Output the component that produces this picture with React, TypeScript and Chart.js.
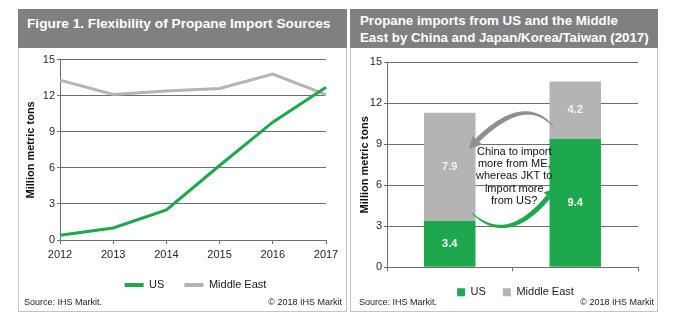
import React, { useEffect, useRef } from 'react';
import { Chart, registerables } from 'chart.js';

Chart.register(...registerables);

// ---------- data ----------
const years = ['2012', '2013', '2014', '2015', '2016', '2017'];
const usImports = [0.4, 1.0, 2.5, 6.2, 9.8, 12.7];
const middleEastImports = [13.3, 12.1, 12.4, 12.6, 13.8, 12.1];

const regions = ['China', 'Japan/Korea/Taiwan'];
const usByRegion = [3.4, 9.4];
const middleEastByRegion = [7.9, 4.2];

const yMin = 0;
const yMax = 15;
const yStep = 3;

const seriesNames = ['US', 'Middle East'];
const annotationLines = ['China to import', 'more from ME,', 'whereas JKT to', 'import more', 'from US?'];

// ---------- styles ----------
const FONT = '"Liberation Sans", Arial, Helvetica, sans-serif';
const GREEN = '#1ea84d';
const GRAY = '#b4b4b4';
const ARROW_GRAY = '#8f8f8f';
const AXIS = '#6e6e6e';
const TEXT = '#262626';
const HEADER = '#808080';
const BORDER = '#c4c4c4';

Chart.defaults.font.family = FONT;

const plainLegendLabels = (chart: any) =>
  (Chart.defaults.plugins.legend.labels as any)
    .generateLabels(chart)
    .map((l: any) => ({ ...l, lineWidth: 0, strokeStyle: 'rgba(0,0,0,0)' }));

// shifts the legend horizontally (reference legend is centred under the plot)
const legendShift = (dx: number) => ({
  id: 'legendShift',
  afterLayout(chart: any) {
    if (chart.legend) {
      chart.legend.left += dx;
      chart.legend.right += dx;
    }
  },
});

// value labels inside stacked bars
const barValueLabels = {
  id: 'barValueLabels',
  afterDatasetsDraw(chart: any) {
    const { ctx } = chart;
    ctx.save();
    ctx.font = `bold 11px ${FONT}`;
    ctx.textAlign = 'center';
    ctx.textBaseline = 'middle';
    chart.data.datasets.forEach((ds: any, i: number) => {
      const meta = chart.getDatasetMeta(i);
      meta.data.forEach((el: any, j: number) => {
        ctx.fillStyle = i === 0 ? '#ffffff' : '#f2f2f2';
        ctx.fillText(ds.data[j].toFixed(1), el.x, (el.y + el.base) / 2);
      });
    });
    ctx.restore();
  },
};

// annotation: curved arrows + question text, placed in data units of the bar chart
type Pt = [number, number];
const grayArrow = { s: [0.825, 10.3] as Pt, c: [0.6, 12.7] as Pt, e: [0.22, 9.3] as Pt, tip: [0.155, 8.65] as Pt };
const greenArrow = { s: [0.18, 3.95] as Pt, c: [0.46, 1.55] as Pt, e: [0.785, 5.15] as Pt, tip: [0.857, 5.8] as Pt };
const annotationAnchor: Pt = [0.514, 8.46];
const annotationLineStep = 0.905;

function drawArrow(ctx: CanvasRenderingContext2D, S: Pt, C: Pt, E: Pt, T: Pt, w0: number, w1: number, headW: number, color: string) {
  const N = 40;
  const left: Pt[] = [];
  const right: Pt[] = [];
  for (let i = 0; i <= N; i++) {
    const t = i / N;
    const mt = 1 - t;
    const px = mt * mt * S[0] + 2 * mt * t * C[0] + t * t * E[0];
    const py = mt * mt * S[1] + 2 * mt * t * C[1] + t * t * E[1];
    let dx = 2 * mt * (C[0] - S[0]) + 2 * t * (E[0] - C[0]);
    let dy = 2 * mt * (C[1] - S[1]) + 2 * t * (E[1] - C[1]);
    const len = Math.hypot(dx, dy) || 1;
    dx /= len;
    dy /= len;
    const w = (w0 + (w1 - w0) * Math.sin((t * Math.PI) / 2)) / 2;
    left.push([px - dy * w, py + dx * w]);
    right.push([px + dy * w, py - dx * w]);
  }
  ctx.fillStyle = color;
  ctx.beginPath();
  ctx.moveTo(left[0][0], left[0][1]);
  left.forEach((p) => ctx.lineTo(p[0], p[1]));
  for (let i = right.length - 1; i >= 0; i--) ctx.lineTo(right[i][0], right[i][1]);
  ctx.closePath();
  ctx.fill();
  // head
  let hx = T[0] - E[0];
  let hy = T[1] - E[1];
  const hl = Math.hypot(hx, hy) || 1;
  hx /= hl;
  hy /= hl;
  ctx.beginPath();
  ctx.moveTo(T[0], T[1]);
  ctx.lineTo(E[0] - hy * headW / 2, E[1] + hx * headW / 2);
  ctx.lineTo(E[0] + hy * headW / 2, E[1] - hx * headW / 2);
  ctx.closePath();
  ctx.fill();
}

const annotationPlugin = {
  id: 'annotationPlugin',
  afterDatasetsDraw(chart: any) {
    const { ctx } = chart;
    const { x, y } = chart.scales;
    const x0 = x.getPixelForValue(0);
    const x1 = x.getPixelForValue(1);
    const P = (p: Pt): Pt => [x0 + (x1 - x0) * p[0], y.getPixelForValue(p[1])];
    ctx.save();
    drawArrow(ctx, P(grayArrow.s), P(grayArrow.c), P(grayArrow.e), P(grayArrow.tip), 1, 5, 13, ARROW_GRAY);
    drawArrow(ctx, P(greenArrow.s), P(greenArrow.c), P(greenArrow.e), P(greenArrow.tip), 1, 5, 13, GREEN);
    ctx.fillStyle = '#111111';
    ctx.font = `11px ${FONT}`;
    ctx.textAlign = 'center';
    ctx.textBaseline = 'middle';
    annotationLines.forEach((line, i) => {
      const p = P([annotationAnchor[0], annotationAnchor[1] - i * annotationLineStep]);
      ctx.fillText(line, p[0], p[1]);
    });
    ctx.restore();
  },
};

const yTitle = (pad: number) => ({
  display: true,
  text: 'Million metric tons',
  color: '#111111',
  font: { size: 11, weight: 'bold' as const },
  padding: { top: pad, bottom: 0 },
});

function LineChart() {
  const ref = useRef<HTMLCanvasElement>(null);
  useEffect(() => {
    const chart = new Chart(ref.current as HTMLCanvasElement, {
      type: 'line',
      data: {
        labels: years,
        datasets: [
          { label: seriesNames[0], data: usImports, borderColor: GREEN, backgroundColor: GREEN, borderWidth: 3, pointRadius: 0, tension: 0 },
          { label: seriesNames[1], data: middleEastImports, borderColor: GRAY, backgroundColor: GRAY, borderWidth: 3, pointRadius: 0, tension: 0 },
        ],
      },
      options: {
        animation: false,
        responsive: false,
        layout: { padding: { top: 11.7, right: 20, bottom: 9.5, left: 0 } },
        plugins: {
          tooltip: { enabled: false },
          legend: {
            position: 'bottom',
            labels: {
              boxWidth: 19,
              boxHeight: 4,
              padding: 20,
              color: '#1a1a1a',
              font: { size: 11 },
              generateLabels: plainLegendLabels,
            },
          },
        },
        scales: {
          x: {
            type: 'category',
            offset: false,
            grid: { drawOnChartArea: false, drawTicks: true, tickLength: 4, color: AXIS },
            border: { color: AXIS },
            ticks: { color: TEXT, font: { size: 11 }, padding: 4.5, maxRotation: 0, autoSkip: false },
            afterFit: (s: any) => { s.height = 19.5; },
          },
          y: {
            min: yMin,
            max: yMax,
            ticks: { stepSize: yStep, color: TEXT, font: { size: 11 }, padding: 2 },
            grid: { color: AXIS, tickLength: 3 },
            border: { color: AXIS },
            title: yTitle(5.4),
            afterFit: (s: any) => { s.width = 41; },
          },
        },
      },
      plugins: [legendShift(23)],
    } as any);
    return () => chart.destroy();
  }, []);
  return <canvas ref={ref} width={327} height={262} style={{ position: 'absolute', left: 19, top: 48, width: 327, height: 262 }} />;
}

function BarChart() {
  const ref = useRef<HTMLCanvasElement>(null);
  useEffect(() => {
    const chart = new Chart(ref.current as HTMLCanvasElement, {
      type: 'bar',
      data: {
        labels: regions,
        datasets: [
          { label: seriesNames[0], data: usByRegion, backgroundColor: GREEN, borderWidth: 0, barPercentage: 0.41, categoryPercentage: 1 },
          { label: seriesNames[1], data: middleEastByRegion, backgroundColor: GRAY, borderWidth: 0, barPercentage: 0.41, categoryPercentage: 1 },
        ],
      },
      options: {
        animation: false,
        responsive: false,
        layout: { padding: { top: 14.3, right: 19, bottom: 2.2, left: 0 } },
        plugins: {
          tooltip: { enabled: false },
          legend: {
            position: 'bottom',
            labels: {
              boxWidth: 8,
              boxHeight: 8,
              padding: 17,
              color: '#1a1a1a',
              font: { size: 11 },
              generateLabels: plainLegendLabels,
            },
          },
        },
        scales: {
          x: {
            stacked: true,
            grid: { drawOnChartArea: false, drawTicks: true, tickLength: 4, color: AXIS, offset: true },
            border: { color: AXIS },
            ticks: { color: TEXT, font: { size: 11 }, padding: 0, maxRotation: 0, autoSkip: false },
            afterFit: (s: any) => { s.height = 2.5; },
          },
          y: {
            stacked: true,
            min: yMin,
            max: yMax,
            ticks: { stepSize: yStep, color: TEXT, font: { size: 11 }, padding: 2 },
            grid: { color: AXIS, tickLength: 3 },
            border: { color: AXIS },
            title: yTitle(7.4),
            afterFit: (s: any) => { s.width = 36; },
          },
        },
      },
      plugins: [barValueLabels, annotationPlugin, legendShift(21)],
    } as any);
    return () => chart.destroy();
  }, []);
  return <canvas ref={ref} width={306} height={262} style={{ position: 'absolute', left: 351, top: 48, width: 306, height: 262 }} />;
}

const abs = (o: React.CSSProperties): React.CSSProperties => ({ position: 'absolute', ...o });

export default function App() {
  return (
    <div style={{ position: 'fixed', left: 0, top: 0, width: 684, height: 322, background: '#ffffff', fontFamily: FONT, overflow: 'hidden' }}>
      {/* left panel */}
      <div style={abs({ left: 18, top: 9, width: 329, height: 303, border: `1.5px solid ${BORDER}`, boxSizing: 'border-box' })} />
      <div
        style={abs({
          left: 18, top: 9, width: 329, height: 39, background: HEADER, color: '#ffffff',
          fontWeight: 'bold', fontSize: 13.7, lineHeight: '17px', paddingLeft: 9, paddingTop: 5.8, boxSizing: 'border-box', whiteSpace: 'nowrap',
        })}
      >
        Figure 1. Flexibility of Propane Import Sources
      </div>
      <LineChart />
      <div style={abs({ left: 24, top: 297, fontSize: 9, lineHeight: '11px', color: '#222' })}>Source: IHS Markit.</div>
      <div style={abs({ right: 684 - 342, top: 297, fontSize: 9, lineHeight: '11px', color: '#222', whiteSpace: 'nowrap' })}>© 2018 IHS Markit</div>

      {/* right panel */}
      <div style={abs({ left: 350, top: 9, width: 308, height: 303, border: `1.5px solid ${BORDER}`, boxSizing: 'border-box' })} />
      <div
        style={abs({
          left: 350, top: 9, width: 308, height: 39, background: HEADER, color: '#ffffff',
          fontWeight: 'bold', fontSize: 13.3, lineHeight: '17px', paddingLeft: 10, paddingTop: 3, boxSizing: 'border-box', whiteSpace: 'nowrap',
        })}
      >
        Propane imports from US and the Middle
        <br />
        East by China and Japan/Korea/Taiwan (2017)
      </div>
      <BarChart />
      <div style={abs({ left: 359, top: 297, fontSize: 9, lineHeight: '11px', color: '#222' })}>Source: IHS Markit.</div>
      <div style={abs({ right: 684 - 654, top: 297, fontSize: 9, lineHeight: '11px', color: '#222', whiteSpace: 'nowrap' })}>© 2018 IHS Markit</div>
    </div>
  );
}
